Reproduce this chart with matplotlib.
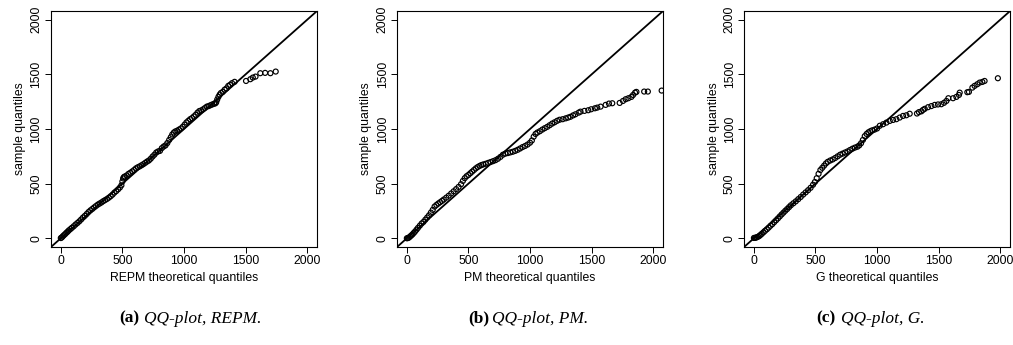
import matplotlib
matplotlib.use("Agg")
import matplotlib.pyplot as plt

# QQ-plot data (theoretical vs sample quantiles)
repm_x = [0, 8, 16, 25, 35, 45, 55, 65, 78, 90, 105, 120, 135, 150, 165, 180, 195, 210, 225, 240,
          255, 270, 285, 300, 315, 330, 345, 360, 375, 390, 405, 420, 435, 450, 465, 480, 492, 500,
          506, 512, 520, 535, 550, 565, 580, 595, 610, 625, 640, 655, 670, 685, 700, 715, 730, 745,
          760, 775, 790, 805, 820, 835, 850, 865, 880, 893, 905, 918, 930, 945, 960, 975, 990, 1005,
          1020, 1035, 1050, 1065, 1080, 1095, 1110, 1125, 1140, 1155, 1170, 1185, 1200, 1215, 1230,
          1245, 1255, 1262, 1270, 1280, 1290, 1300, 1315, 1330, 1345, 1360, 1375, 1390, 1411,
          1504, 1539, 1559, 1581, 1620, 1659, 1702, 1745]
repm_y = [2, 8, 18, 28, 38, 50, 60, 72, 84, 96, 110, 126, 140, 155, 172, 190, 205, 222, 240, 255,
          268, 282, 295, 308, 318, 328, 340, 350, 360, 372, 385, 400, 418, 432, 448, 465, 485, 520,
          548, 560, 566, 575, 590, 600, 612, 625, 640, 650, 658, 668, 678, 690, 702, 712, 728, 748,
          765, 785, 795, 800, 825, 840, 850, 872, 900, 925, 950, 968, 978, 985, 995, 1005, 1020, 1040,
          1060, 1075, 1090, 1100, 1115, 1130, 1150, 1165, 1170, 1180, 1192, 1205, 1210, 1218, 1225,
          1232, 1235, 1245, 1270, 1295, 1315, 1330, 1340, 1360, 1372, 1395, 1405, 1420, 1432,
          1440, 1456, 1471, 1480, 1511, 1514, 1511, 1526]

pm_x = [0, 8, 16, 25, 35, 45, 55, 65, 78, 90, 105, 120, 135, 150, 165, 180, 195, 210, 225, 240,
        255, 270, 285, 300, 320, 340, 360, 380, 400, 420, 440, 455, 470, 485, 500, 515, 530, 545,
        560, 575, 590, 605, 620, 640, 660, 680, 700, 720, 740, 760, 780, 800, 820, 840, 860, 880,
        900, 920, 940, 960, 980, 1000, 1015, 1030, 1045, 1060, 1080, 1100, 1120, 1140, 1160, 1180,
        1200, 1220, 1240, 1265, 1290, 1310, 1328, 1350, 1369, 1395, 1410, 1442, 1473, 1497, 1527,
        1546, 1573, 1614, 1641, 1668, 1728, 1755, 1777, 1799, 1823, 1837, 1853, 1864, 1927, 1957,
        2069]
pm_y = [0, 2, 6, 15, 25, 35, 48, 60, 78, 95, 115, 135, 150, 170, 190, 210, 235, 260, 290, 305,
        318, 330, 342, 355, 372, 390, 410, 430, 450, 470, 495, 525, 550, 568, 580, 595, 610, 625,
        640, 652, 662, 670, 676, 682, 690, 698, 706, 715, 728, 745, 765, 775, 780, 786, 792, 800,
        810, 822, 835, 845, 858, 875, 895, 930, 955, 968, 980, 995, 1008, 1020, 1035, 1050,
        1062, 1075, 1085, 1090, 1098, 1105, 1112, 1125, 1135, 1150, 1159, 1166, 1172, 1181, 1190,
        1196, 1205, 1221, 1233, 1236, 1239, 1257, 1273, 1282, 1294, 1312, 1333, 1340, 1343, 1343,
        1352]

g_x = [0, 8, 16, 25, 35, 45, 55, 65, 78, 90, 105, 120, 135, 150, 165, 180, 195, 210, 225, 240,
       255, 270, 285, 300, 320, 340, 360, 380, 400, 420, 440, 460, 480, 495, 510, 525, 540, 555,
       570, 585, 600, 620, 640, 660, 680, 700, 720, 740, 760, 780, 800, 820, 840, 855, 870, 885,
       900, 915, 930, 945, 960, 980, 1000, 1022, 1049, 1076, 1103, 1130, 1157, 1184, 1211, 1238,
       1265, 1324, 1340, 1360, 1373, 1387, 1414, 1441, 1468, 1495, 1522, 1544, 1563, 1579, 1617,
       1644, 1665, 1671, 1733, 1746, 1774, 1792, 1814, 1833, 1855, 1873, 1981]
g_y = [3, 4, 6, 10, 15, 22, 32, 42, 55, 68, 82, 98, 115, 130, 148, 165, 182, 200, 218, 235,
       252, 268, 285, 302, 320, 338, 358, 378, 400, 420, 440, 462, 490, 515, 550, 590, 625, 645,
       665, 685, 700, 712, 722, 735, 750, 765, 775, 785, 795, 808, 820, 830, 838, 850, 870, 900,
       935, 955, 970, 980, 988, 995, 1005, 1030, 1044, 1059, 1074, 1083, 1090, 1105, 1120, 1126,
       1140, 1142, 1155, 1162, 1175, 1185, 1200, 1210, 1221, 1225, 1227, 1240, 1257, 1282, 1282,
       1294, 1312, 1333, 1337, 1340, 1379, 1395, 1410, 1425, 1431, 1440, 1465]

xlabels = ["REPM theoretical quantiles", "PM theoretical quantiles", "G theoretical quantiles"]
tags = ["(a)", "(b)", "(c)"]
captions = ["QQ-plot, REPM.", "QQ-plot, PM.", "QQ-plot, G."]
ticks = [0, 500, 1000, 1500, 2000]

plt.rcParams["font.family"] = ["Liberation Sans", "DejaVu Sans"]

fig = plt.figure(figsize=(10.13, 3.45), dpi=100)
lefts = [0.0503, 0.3919, 0.7345]
cap_x = [0.118, 0.462, 0.806]
series = [(repm_x, repm_y), (pm_x, pm_y), (g_x, g_y)]

for i, (xs, ys) in enumerate(series):
    ax = fig.add_axes([lefts[i], 0.284, 0.2626, 0.684])
    ax.scatter(xs, ys, s=13, facecolors="none", edgecolors="black", linewidths=0.85, zorder=3)
    ax.axline((0, 0), slope=1, color="black", linewidth=1.3, zorder=2)
    ax.set_xlim(-80, 2080)
    ax.set_ylim(-80, 2080)
    ax.set_xticks(ticks)
    ax.set_yticks(ticks)
    ax.tick_params(direction="out", length=4, width=0.7, labelsize=8.8, pad=2)
    for lab in ax.get_yticklabels():
        lab.set_rotation(90)
        lab.set_va("center")
    for sp in ax.spines.values():
        sp.set_linewidth(0.8)
    ax.set_xlabel(xlabels[i], fontsize=8.8, labelpad=3)
    ax.set_ylabel("sample quantiles", fontsize=8.8, labelpad=3)

    fig.text(cap_x[i], 0.065, tags[i], fontsize=12.5, fontweight="bold",
             family="Liberation Serif", ha="left", va="baseline")
    fig.text(cap_x[i] + 0.024, 0.065, captions[i], fontsize=12.5, style="italic",
             family="Liberation Serif", ha="left", va="baseline")

fig.savefig("out.png", dpi=100)
